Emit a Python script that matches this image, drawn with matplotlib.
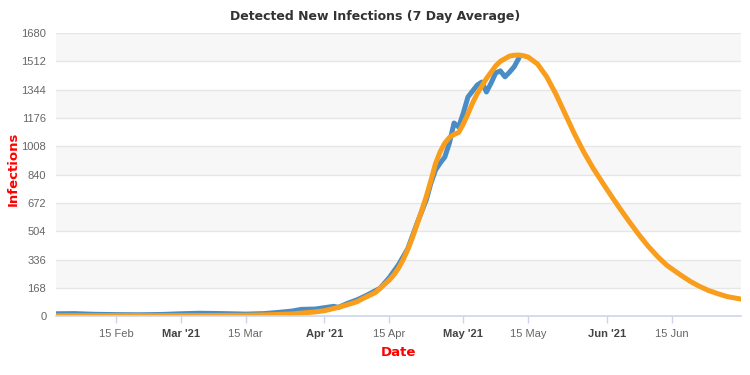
import numpy as np
import matplotlib
matplotlib.use("Agg")
import matplotlib.pyplot as plt

# detected cases, 7 day average
actual_dates = ["2021-02-02", "2021-02-06", "2021-02-10", "2021-02-15", "2021-02-20",
                "2021-02-25", "2021-03-01", "2021-03-05", "2021-03-10", "2021-03-15",
                "2021-03-19", "2021-03-22", "2021-03-25", "2021-03-27", "2021-03-30",
                "2021-04-01", "2021-04-03", "2021-04-04", "2021-04-06", "2021-04-08",
                "2021-04-10", "2021-04-13", "2021-04-15", "2021-04-17", "2021-04-19",
                "2021-04-21", "2021-04-23", "2021-04-24", "2021-04-25", "2021-04-26",
                "2021-04-27", "2021-04-28", "2021-04-29", "2021-04-30", "2021-05-01",
                "2021-05-02", "2021-05-04", "2021-05-05", "2021-05-06", "2021-05-07",
                "2021-05-08", "2021-05-09", "2021-05-10", "2021-05-11", "2021-05-12",
                "2021-05-13"]
actual_values = [14, 15, 11, 9, 8,
                 10, 14, 17, 15, 12,
                 15, 22, 30, 40, 42,
                 50, 58, 52, 76, 96,
                 122, 165, 228, 305, 400,
                 550, 690, 789, 867, 908,
                 944, 1027, 1146, 1122, 1205,
                 1300, 1371, 1389, 1330, 1383,
                 1443, 1455, 1420, 1448, 1480,
                 1531]

# model projection
model_dates = ["2021-02-02", "2021-02-15", "2021-03-01", "2021-03-10", "2021-03-15",
               "2021-03-20", "2021-03-25", "2021-03-30", "2021-04-01", "2021-04-04",
               "2021-04-06", "2021-04-08", "2021-04-09", "2021-04-12", "2021-04-15",
               "2021-04-16", "2021-04-17", "2021-04-18", "2021-04-19", "2021-04-20",
               "2021-04-21", "2021-04-22", "2021-04-23", "2021-04-24", "2021-04-25",
               "2021-04-26", "2021-04-27", "2021-04-28", "2021-04-29", "2021-04-30",
               "2021-05-01", "2021-05-02", "2021-05-03", "2021-05-04", "2021-05-06",
               "2021-05-08", "2021-05-09", "2021-05-11", "2021-05-12", "2021-05-13",
               "2021-05-14", "2021-05-15", "2021-05-17", "2021-05-19", "2021-05-21",
               "2021-05-23", "2021-05-25", "2021-05-27", "2021-05-29", "2021-05-31",
               "2021-06-02", "2021-06-04", "2021-06-06", "2021-06-08", "2021-06-10",
               "2021-06-12", "2021-06-14", "2021-06-17", "2021-06-19", "2021-06-21",
               "2021-06-23", "2021-06-25", "2021-06-27", "2021-06-30"]
model_values = [2, 3, 3, 4, 5,
                8, 13, 25, 32, 52,
                68, 85, 100, 140, 214,
                245, 285, 335, 395, 465,
                545, 625, 710, 805, 905,
                975, 1027, 1060, 1078, 1090,
                1140, 1200, 1265, 1320, 1410,
                1485, 1512, 1543, 1548, 1549,
                1545, 1537, 1497, 1421, 1318,
                1200, 1082, 975, 880, 795,
                712, 632, 555, 481, 413,
                353, 301, 243, 207, 177,
                152, 133, 116, 101]

y_ticks = [0, 168, 336, 504, 672, 840, 1008, 1176, 1344, 1512, 1680]
x_tick_dates = ["2021-02-15", "2021-03-01", "2021-03-15", "2021-04-01", "2021-04-15",
                "2021-05-01", "2021-05-15", "2021-06-01", "2021-06-15"]
x_tick_labels = ["15 Feb", "Mar '21", "15 Mar", "Apr '21", "15 Apr",
                 "May '21", "15 May", "Jun '21", "15 Jun"]


def main():
    a_dates = np.array(actual_dates, dtype="datetime64[D]")
    m_dates = np.array(model_dates, dtype="datetime64[D]")
    t_dates = np.array(x_tick_dates, dtype="datetime64[D]")

    fig = plt.figure(figsize=(7.5, 3.75), dpi=100)
    ax = fig.add_axes([0.0747, 0.157, 0.9133, 0.755])

    # alternating bands + grid
    for i in range(len(y_ticks) - 1):
        if i % 2 == 1:
            ax.axhspan(y_ticks[i], y_ticks[i + 1], color="#f7f7f7", zorder=0, lw=0)
    for yv in y_ticks[1:]:
        ax.axhline(yv, color="#e6e6e6", lw=1, zorder=1)

    ax.plot(a_dates, actual_values, color="#4a8dc6", lw=3.6, zorder=3,
            solid_joinstyle="round", solid_capstyle="round")
    ax.plot(m_dates, model_values, color="#f99d1c", lw=3.6, zorder=4,
            solid_joinstyle="round", solid_capstyle="round")

    ax.set_ylim(0, 1680)
    ax.set_xlim(np.datetime64("2021-02-02"), np.datetime64("2021-06-30"))
    ax.set_yticks(y_ticks)
    ax.set_yticklabels([str(v) for v in y_ticks], fontsize=8, color="#666666",
                       family="Liberation Sans")
    ax.set_xticks(t_dates)
    ax.set_xticklabels(x_tick_labels, fontsize=8, color="#666666", family="Liberation Sans")
    for lab in ax.get_xticklabels():
        if "'" in lab.get_text():
            lab.set_fontweight("bold")
            lab.set_color("#444444")

    ax.tick_params(axis="y", length=0, pad=7)
    ax.tick_params(axis="x", length=5, color="#ccd6eb", width=1, pad=4, direction="out")

    for s in ["top", "right", "left"]:
        ax.spines[s].set_visible(False)
    ax.spines["bottom"].set_color("#ccd6eb")
    ax.spines["bottom"].set_linewidth(1.2)
    ax.spines["bottom"].set_zorder(5)

    ax.set_xlabel("Date", color="red", fontweight="bold", fontsize=9.5, labelpad=5)
    ax.set_ylabel("Infections", color="red", fontweight="bold", fontsize=9.5)
    ax.yaxis.set_label_coords(-0.053, 0.52)
    fig.text(0.5, 0.955, "Detected New Infections (7 Day Average)", ha="center", va="center",
             fontsize=9, fontweight="bold", color="#333333")

    plt.savefig("out.png", dpi=100)


if __name__ == "__main__":
    main()
